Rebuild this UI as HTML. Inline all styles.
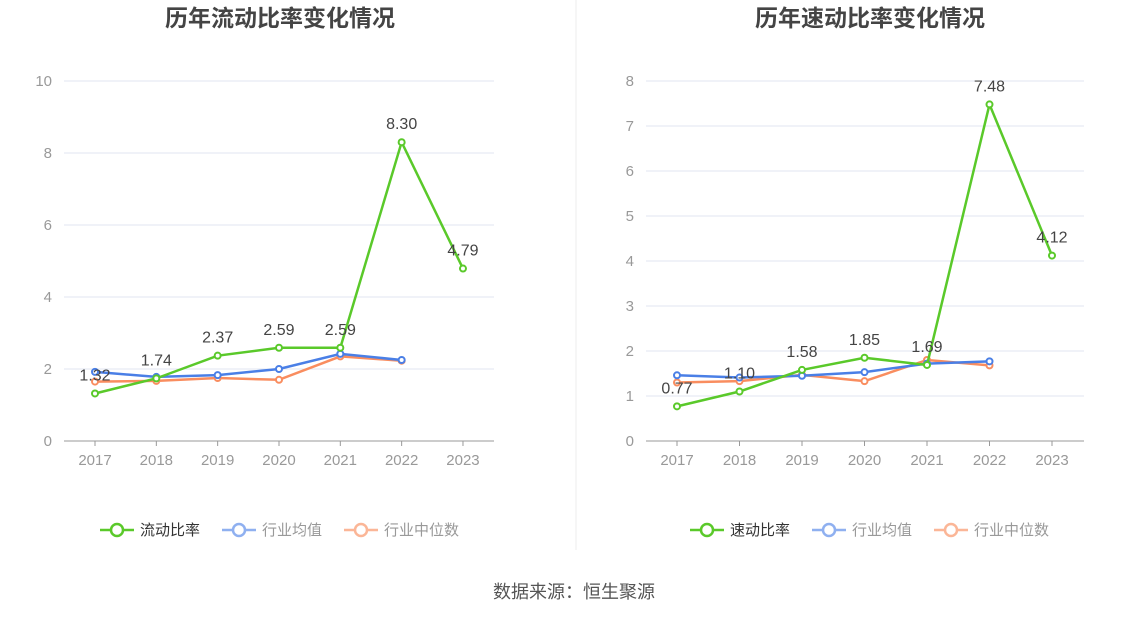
<!DOCTYPE html>
<html><head><meta charset="utf-8"><style>
body{margin:0;background:#fff;font-family:"Liberation Sans","Noto Sans CJK SC",sans-serif;}
svg text{font-family:"Liberation Sans","Noto Sans CJK SC",sans-serif;}
</style></head><body>
<svg id="s" width="1148" height="619"></svg>
<script>
const years=["2017","2018","2019","2020","2021","2022","2023"];
const curRatio=[1.32,1.74,2.37,2.59,2.59,8.30,4.79];
const curAvg=[1.92,1.78,1.83,2.00,2.42,2.25];
const curMed=[1.65,1.67,1.75,1.70,2.35,2.23];
const curTicks=[0,2,4,6,8,10];
const quickRatio=[0.77,1.10,1.58,1.85,1.69,7.48,4.12];
const quickAvg=[1.46,1.41,1.45,1.53,1.72,1.77];
const quickMed=[1.30,1.33,1.47,1.33,1.80,1.68];
const quickTicks=[0,1,2,3,4,5,6,7,8];
const NS="http://www.w3.org/2000/svg";
const svg=document.getElementById('s');
function el(t,a,txt){const e=document.createElementNS(NS,t);for(const k in a)e.setAttribute(k,a[k]);if(txt!==undefined)e.textContent=txt;svg.appendChild(e);return e;}
function chart(o){
 const y0=441,y1=81,max=o.ticks[o.ticks.length-1];
 const Y=v=>y0-(v/max)*(y0-y1);
 const X=i=>o.x0+i*o.step;
 const t=el('text',{x:o.cx,y:26,'text-anchor':'middle','font-size':23,'font-weight':'bold',fill:'#444'},o.title);
 
 o.ticks.forEach(v=>{
  const g=el('line',{x1:o.left,x2:o.right,y1:Y(v),y2:Y(v),stroke:v===0?'#999':'#e0e6f1','stroke-width':1});
  
  const l=el('text',{x:o.left-12,y:Y(v)+5,'text-anchor':'end','font-size':15,fill:'#999'},v);
  
 });
 years.forEach((yr,i)=>{
  const tk=el('line',{x1:X(i),x2:X(i),y1:y0,y2:y0+5,stroke:'#999'});
  
  const l=el('text',{x:X(i),y:465,'text-anchor':'middle','font-size':15,fill:'#999'},yr);
  
 });
 const series=[[o.med,'#f98d5f','median'],[o.avg,'#4a7fe6','average'],[o.main,'#5ac92a','main']];
 series.forEach(([d,c,n])=>{
  const p=el('polyline',{points:d.map((v,i)=>X(i)+','+Y(v)).join(' '),fill:'none',stroke:c,'stroke-width':2.5});
  
  d.forEach((v,i)=>{
   const m=el('circle',{cx:X(i),cy:Y(v),r:3,fill:'#fff',stroke:c,'stroke-width':2});
   
  });
 });
 o.main.forEach((v,i)=>{
  const l=el('text',{x:X(i),y:Y(v)-13,'text-anchor':'middle','font-size':16,fill:'#444'},v.toFixed(2));
  
 });
 const leg=[[o.legend,'#5ac92a','#333'],['行业均值','#8fb0f0','#999'],['行业中位数','#fbb697','#999']];
 let lx=o.legX;
 leg.forEach(([txt,c,tc])=>{
  const ln=el('line',{x1:lx,x2:lx+34,y1:530,y2:530,stroke:c,'stroke-width':2.5});
  
  const ci=el('circle',{cx:lx+17,cy:530,r:6,fill:'#fff',stroke:c,'stroke-width':2.5});
  
  const tt=el('text',{x:lx+40,y:535,'font-size':15,fill:tc},txt);
  
  lx+=40+txt.length*15+22;
 });
}
chart({id:'current-ratio',title:'历年流动比率变化情况',cx:280,left:64,right:494,x0:95,step:61.33,ticks:curTicks,main:curRatio,avg:curAvg,med:curMed,legend:'流动比率',legX:100});
chart({id:'quick-ratio',title:'历年速动比率变化情况',cx:870,left:646,right:1084,x0:677,step:62.5,ticks:quickTicks,main:quickRatio,avg:quickAvg,med:quickMed,legend:'速动比率',legX:690});
const dv=el('line',{x1:576,x2:576,y1:0,y2:550,stroke:'#eee'});

const src=el('text',{x:574,y:598,'text-anchor':'middle','font-size':18,fill:'#555'},'数据来源：恒生聚源');

</script>
</body></html>
